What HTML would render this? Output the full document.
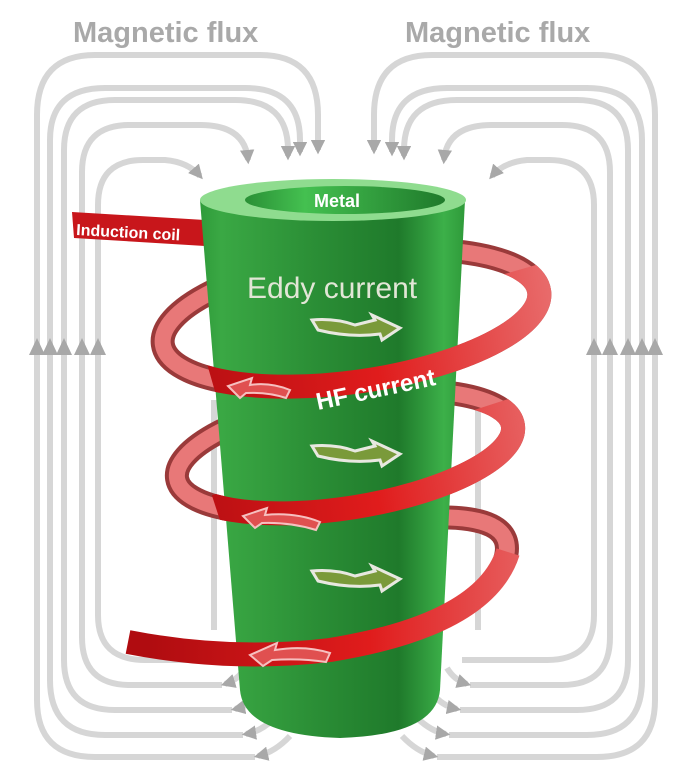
<!DOCTYPE html>
<html><head><meta charset="utf-8"><style>
html,body{margin:0;padding:0;background:#fff}
svg{display:block}
text{font-family:"Liberation Sans","DejaVu Sans",sans-serif}
</style></head><body>
<svg width="692" height="772" viewBox="0 0 692 772" xmlns="http://www.w3.org/2000/svg">
<defs>
<marker id="ah" viewBox="0 0 10 10" refX="7" refY="5" markerWidth="2.4" markerHeight="2.4" orient="auto" markerUnits="strokeWidth">
<path d="M0,0 L10,5 L0,10 Z" fill="#a8a8a8"/></marker>
<linearGradient id="cyl" x1="0" x2="1" y1="0" y2="0">
<stop offset="0" stop-color="#2f9b3a"/><stop offset="0.08" stop-color="#3aa844"/>
<stop offset="0.45" stop-color="#2a8d35"/><stop offset="0.75" stop-color="#1f7a2b"/>
<stop offset="0.92" stop-color="#3cb049"/><stop offset="1" stop-color="#2f9a3a"/></linearGradient>
<linearGradient id="hole" x1="0" x2="1"><stop offset="0" stop-color="#2a9036"/><stop offset="0.3" stop-color="#44c050"/><stop offset="1" stop-color="#1f7a2b"/></linearGradient>
<linearGradient id="red" gradientUnits="userSpaceOnUse" x1="150" x2="550" y1="0" y2="0"><stop offset="0" stop-color="#b00c10"/><stop offset="0.55" stop-color="#e01c1c"/><stop offset="1" stop-color="#e86a6a"/></linearGradient>
<clipPath id="c1"><rect x="200" y="318" width="400" height="120" transform="rotate(-8 351 318)"/></clipPath>
<clipPath id="c2"><rect x="205" y="452" width="380" height="110" transform="rotate(-9 345 452)"/></clipPath>
</defs>
<g fill="none" stroke="#d6d6d6" stroke-width="6" id="flux">
<path d="M255,757 L95,757 Q37,757 37,700 L37,115 Q37,55 95,55 L260,55 Q318,55 318,115 L318,150" marker-end="url(#ah)"/>
<path d="M290,736 Q275,752 258,756" marker-end="url(#ah)"/>
<path d="M243,735 L105,735 Q50,735 50,680 L50,140 Q50,88 105,88 L245,88 Q300,88 300,140 L300,152" marker-end="url(#ah)"/>
<path d="M275,718 Q260,732 246,734" marker-end="url(#ah)"/>
<path d="M232,710 L115,710 Q64,710 64,660 L64,150 Q64,100 115,100 L235,100 Q288,100 288,150 L288,156" marker-end="url(#ah)"/>
<path d="M260,693 Q250,706 235,709" marker-end="url(#ah)"/>
<path d="M222,685 L130,685 Q82,685 82,637 L82,172 Q82,125 130,125 L200,125 Q245,125 248,160" marker-end="url(#ah)"/>
<path d="M245,668 Q238,680 225,684" marker-end="url(#ah)"/>
<path d="M230,660 L145,660 Q98,660 98,615 L98,205 Q98,160 143,160 L165,160 Q188,162 200,176" marker-end="url(#ah)"/>
<path d="M214,400 L214,630"/>
</g>
<use href="#flux" transform="translate(692,0) scale(-1,1)"/>
<g fill="#a8a8a8">
<path d="M29,355 L37,338 L45,355Z M42,355 L50,338 L58,355Z M56,355 L64,338 L72,355Z M74,355 L82,338 L90,355Z M90,355 L98,338 L106,355Z"/>
<path d="M586,355 L594,338 L602,355Z M602,355 L610,338 L618,355Z M620,355 L628,338 L636,355Z M634,355 L642,338 L650,355Z M647,355 L655,338 L663,355Z"/>
</g>
<text x="73" y="42" font-size="29" fill="#a9a9a9" font-weight="bold">Magnetic flux</text>
<text x="405" y="42" font-size="29" fill="#a9a9a9" font-weight="bold">Magnetic flux</text>
<!-- back rings -->
<g fill="none">
<g stroke="#9a3a3a" stroke-width="24"><ellipse cx="351" cy="318" rx="190" ry="64" transform="rotate(-8 351 318)"/>
<ellipse cx="345" cy="452" rx="170" ry="56" transform="rotate(-9 345 452)"/>
<path d="M420,518 Q520,512 505,560"/></g>
<g stroke="#e87878" stroke-width="16"><ellipse cx="351" cy="318" rx="190" ry="64" transform="rotate(-8 351 318)"/>
<ellipse cx="345" cy="452" rx="170" ry="56" transform="rotate(-9 345 452)"/>
<path d="M420,518 Q520,512 505,560"/></g>
</g>
<!-- induction coil lead -->
<path d="M72,212 L205,220 L205,246 L74,238Z" fill="#c8161b"/>
<text x="76" y="235" font-size="16" fill="#fff" font-weight="bold" transform="rotate(3 76 235)">Induction coil</text>
<!-- cylinder -->
<path d="M200,200 L465,200 L440,690 Q436,735 340,738 Q244,735 240,690 Z" fill="url(#cyl)"/>
<ellipse cx="333" cy="200" rx="133" ry="21" fill="#8fdc8f"/>
<ellipse cx="345" cy="200" rx="100" ry="14" fill="url(#hole)"/>
<text x="314" y="207" font-size="18" fill="#fff" font-weight="bold">Metal</text>
<text x="247" y="298" font-size="30" fill="#e2e6d6">Eddy current</text>
<!-- front arcs -->
<g fill="none" stroke="url(#red)" stroke-width="24">
<ellipse clip-path="url(#c1)" cx="351" cy="318" rx="190" ry="64" transform="rotate(-8 351 318)"/>
<ellipse clip-path="url(#c2)" cx="345" cy="452" rx="170" ry="56" transform="rotate(-9 345 452)"/>
<path d="M508,552 Q485,625 330,650 Q230,662 128,642"/>
</g>
<text x="318" y="410" font-size="24" fill="#fff" font-weight="bold" transform="rotate(-12 318 410)">HF current</text>
<!-- eddy arrows -->
<g fill="#7a9a3a" stroke="#e8e8e0" stroke-width="3">
<path d="M312,320 Q335,318 355,325 L375,320 L372,315 L400,328 L382,340 L380,334 Q350,338 318,330Z"/>
<path d="M312,446 Q335,444 355,451 L375,446 L372,441 L400,454 L382,466 L380,460 Q350,464 318,456Z"/>
<path d="M312,571 Q335,569 355,576 L375,571 L372,566 L400,579 L382,591 L380,585 Q350,589 318,581Z"/>
</g>
<g fill="#e05050" stroke="#f6c0c0" stroke-width="2">
<path d="M290,390 Q270,382 250,385 L252,378 L228,386 L240,398 L246,393 Q268,392 286,398Z"/>
<path d="M320,522 Q295,512 265,515 L267,508 L243,516 L255,528 L262,523 Q290,522 316,530Z"/>
<path d="M330,653 Q305,645 275,650 L277,643 L250,655 L263,666 L272,660 Q300,658 326,662Z"/>
</g>
</svg>
</body></html>
